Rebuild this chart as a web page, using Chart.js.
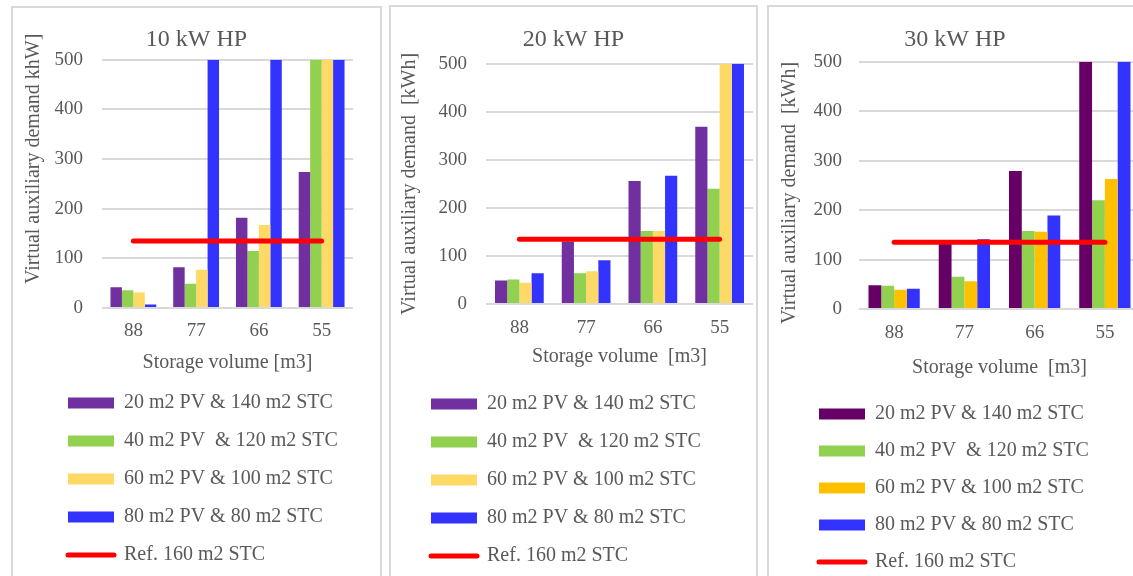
<!DOCTYPE html>
<html>
<head>
<meta charset="utf-8">
<script src="https://cdn.jsdelivr.net/npm/chart.js@4.4.1/dist/chart.umd.min.js"></script>
<style>
  html, body { margin: 0; padding: 0; background: #fff; width: 1133px; height: 576px; overflow: hidden; }
  .panel { position: absolute; border: 2px solid #d9d9d9; background: #fff; height: 620px; }
  .panel canvas { display: block; }
</style>
</head>
<body>
<div class="panel" style="left:11px; top:6px; width:367px;"><canvas id="c1" width="367" height="567"></canvas></div>
<div class="panel" style="left:389px; top:5px; width:365px;"><canvas id="c2" width="365" height="569"></canvas></div>
<div class="panel" style="left:767px; top:5px; width:372px;"><canvas id="c3" width="372" height="575"></canvas></div>
<script>
// storage volume [m3]
const categories = ['88', '77', '66', '55'];
const seriesNames = ['20 m2 PV & 140 m2 STC', '40 m2 PV  & 120 m2 STC', '60 m2 PV & 100 m2 STC', '80 m2 PV & 80 m2 STC'];
const refName = 'Ref. 160 m2 STC';

// 10 kW HP
const hp10PV20 = [42, 82, 182, 274];
const hp10PV40 = [36, 49, 115, 500];
const hp10PV60 = [31, 77, 167, 500];
const hp10PV80 = [7, 500, 500, 500];

// 20 kW HP
const hp20PV20 = [49, 130, 256, 369];
const hp20PV40 = [51, 64, 152, 240];
const hp20PV60 = [44, 68, 152, 500];
const hp20PV80 = [64, 91, 267, 500];

// 30 kW HP
const hp30PV20 = [48, 132, 279, 500];
const hp30PV40 = [47, 65, 158, 220];
const hp30PV60 = [39, 56, 156, 263];
const hp30PV80 = [41, 141, 189, 500];

// reference: 160 m2 STC only
const refLine = [135, 135, 135, 135];

const yTicks = { min: 0, max: 500, step: 100 };

Chart.defaults.font.family = '"Liberation Serif", "Times New Roman", serif';
Chart.defaults.color = '#595959';

const textColor = '#595959';
const gridColor = '#d9d9d9';

function legendLabels(chart) {
    // the line item gets round ends like the plotted line
    return Chart.defaults.plugins.legend.labels.generateLabels(chart).map(item => {
        if (item.pointStyle === 'line') item.lineCap = 'round';
        return item;
    });
}

function makeChart(canvasId, p) {
    const bars = p.series.map((values, i) => ({
        label: seriesNames[i],
        data: values,
        backgroundColor: p.colors[i],
        borderWidth: 0,
        pointStyle: 'rect',
        categoryPercentage: 0.73,
        barPercentage: 1,
        order: 1
    }));

    const ref = {
        type: 'line',
        label: refName,
        data: refLine,
        borderColor: '#ff0000',
        backgroundColor: '#ff0000',
        borderWidth: 5,
        borderCapStyle: 'round',
        pointRadius: 0,
        pointStyle: 'line',
        fill: false,
        order: 0
    };

    return new Chart(document.getElementById(canvasId), {
        type: 'bar',
        data: {
            labels: categories,
            datasets: [...bars, ref]
        },
        options: {
            responsive: false,
            animation: false,
            events: [],
            layout: { padding: 0 },
            plugins: {
                title: {
                    display: true,
                    text: p.title,
                    color: textColor,
                    font: { size: 24, weight: 'normal' },
                    padding: { top: p.titleTop, bottom: p.titleBottom }
                },
                legend: {
                    position: 'bottom',
                    align: 'start',
                    labels: {
                        usePointStyle: true,
                        pointStyleWidth: 46,
                        boxHeight: 11,
                        padding: p.legendGap,
                        color: textColor,
                        font: { size: 20 },
                        generateLabels: legendLabels,
                        sort: (a, b) => a.datasetIndex - b.datasetIndex
                    }
                },
                tooltip: { enabled: false }
            },
            scales: {
                x: {
                    grid: { display: false, drawTicks: false },
                    border: { display: false },
                    ticks: { padding: p.xTickPad, font: { size: 19 }, color: textColor },
                    title: {
                        display: true,
                        text: p.xTitle,
                        color: textColor,
                        font: { size: 20 },
                        padding: { top: 0, bottom: p.xTitleBottom }
                    },
                    afterFit: scale => { scale.height = p.xHeight; }
                },
                y: {
                    min: yTicks.min,
                    max: yTicks.max,
                    ticks: { stepSize: yTicks.step, padding: p.yTickPad, font: { size: 19 }, color: textColor },
                    grid: { color: gridColor, lineWidth: 2, drawTicks: false },
                    border: { display: false },
                    title: {
                        display: true,
                        text: p.yTitle,
                        color: textColor,
                        font: { size: 20 },
                        padding: { top: p.yTitlePad, bottom: 0 }
                    },
                    afterFit: scale => { scale.width = p.yWidth; }
                },
                // empty axis on the right, only keeps space so the title stays centred on the panel
                pad: {
                    type: 'linear',
                    position: 'right',
                    grid: { display: false, drawTicks: false },
                    border: { display: false },
                    ticks: { display: false },
                    afterFit: scale => { scale.width = p.padRight; }
                }
            }
        },
        plugins: [{
            id: 'legendLeft',
            afterLayout(chart) {
                chart.legend.left = p.legendLeft;
            }
        }]
    });
}

makeChart('c1', {
    title: '10 kW HP',
    yTitle: '          Virtual auxiliary demand khW]',
    xTitle: 'Storage volume [m3]',
    series: [hp10PV20, hp10PV40, hp10PV60, hp10PV80],
    colors: ['#7030a0', '#92d050', '#ffd966', '#3333ff'],
    titleTop: 17, titleBottom: 6,
    yWidth: 89, yTickPad: 19, yTitlePad: 9,
    padRight: 27,
    xTickPad: 12, xHeight: 67, xTitleBottom: 0,
    legendGap: 18, legendLeft: 37
});

makeChart('c2', {
    title: '20 kW HP',
    yTitle: 'Virtual auxiliary demand  [kWh]',
    xTitle: 'Storage volume  [m3]',
    series: [hp20PV20, hp20PV40, hp20PV60, hp20PV80],
    colors: ['#7030a0', '#92d050', '#ffd966', '#3333ff'],
    titleTop: 18, titleBottom: 10,
    yWidth: 95, yTickPad: 19, yTitlePad: 7,
    padRight: 3,
    xTickPad: 13, xHeight: 72, xTitleBottom: 7,
    legendGap: 18, legendLeft: 22
});

makeChart('c3', {
    title: '30 kW HP',
    yTitle: 'Virtual auxiliary demand  [kWh]   ',
    xTitle: 'Storage volume  [m3]',
    series: [hp30PV20, hp30PV40, hp30PV60, hp30PV80],
    colors: ['#660066', '#92d050', '#ffc000', '#3333ff'],
    titleTop: 18, titleBottom: 8,
    yWidth: 90, yTickPad: 17, yTitlePad: 9,
    padRight: 1,
    xTickPad: 13, xHeight: 78, xTitleBottom: 7,
    legendGap: 17, legendLeft: 33
});
</script>
</body>
</html>
